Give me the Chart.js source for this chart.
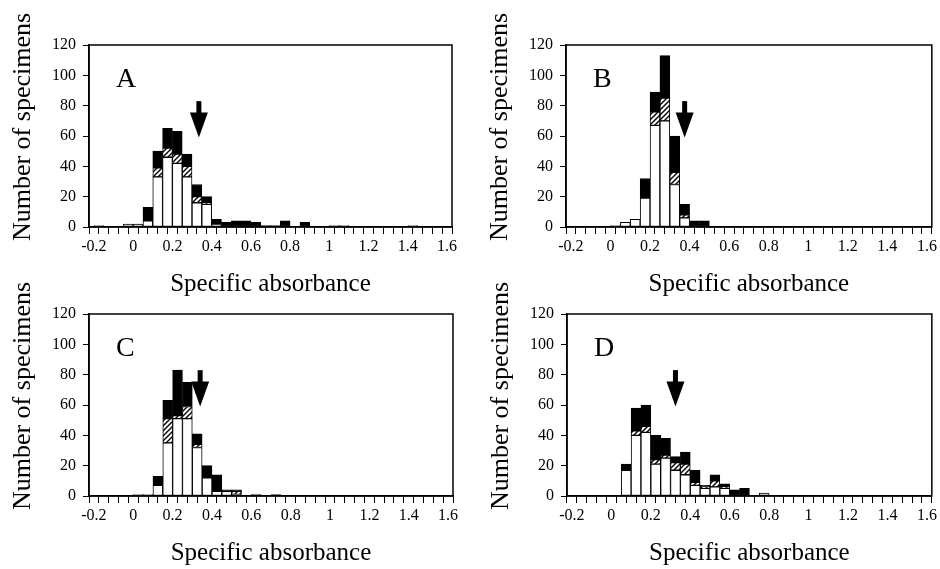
<!DOCTYPE html>
<html>
<head>
<meta charset="utf-8">
<script src="https://cdn.jsdelivr.net/npm/chart.js@4.4.1/dist/chart.umd.min.js"></script>
<style>
  body { margin: 0; background: #fff; }
  #wrap { position: relative; width: 940px; height: 569px; background: #fff; overflow: hidden; }
  canvas { position: absolute; }
</style>
</head>
<body>
<div id="wrap">
  <canvas id="chartA" width="470" height="300" style="left:0;top:0"></canvas>
  <canvas id="chartB" width="470" height="300" style="left:470px;top:0"></canvas>
  <canvas id="chartC" width="470" height="300" style="left:0;top:269px"></canvas>
  <canvas id="chartD" width="470" height="300" style="left:470px;top:269px"></canvas>
</div>
<script>
// bin centres, 0.05 wide, from -0.2 to 1.6
const binCenters = [-0.175, -0.125, -0.075, -0.025, 0.025, 0.075, 0.125, 0.175, 0.225, 0.275,
  0.325, 0.375, 0.425, 0.475, 0.525, 0.575, 0.625, 0.675, 0.725, 0.775,
  0.825, 0.875, 0.925, 0.975, 1.025, 1.075, 1.125, 1.175, 1.225, 1.275,
  1.325, 1.375, 1.425, 1.475, 1.525, 1.575];
const xTickLabels = ['-0.2', '0', '0.2', '0.4', '0.6', '0.8', '1', '1.2', '1.4', '1.6'];
const yTickLabels = ['0', '20', '40', '60', '80', '100', '120'];

// panel A
const whiteA = [1,0,0,2,2,4,33,46,42,33,16,15,2,0,0,0,0,0,0,0,0,0,0,0,1,1,0,0,0,0,0,0,1,0,0,0];
const hatchA = [0,0,0,0,0,0,6,6,6,7,4,1,0,0,0,0,0,0,0,0,0,0,0,0,0,0,0,0,0,0,0,0,0,0,0,0];
const blackA = [0,0,0,0,0,9,11,13,15,8,8,4,3,3,4,4,3,1,1,4,0,3,0,0,0,0,0,0,0,0,0,0,0,0,0,0];
// panel B
const whiteB = [0,0,0,0,1,3,5,19,67,70,28,6,0,0,0,0,0,0,0,0,0,0,0,0,0,0,0,0,0,0,0,0,0,0,0,0];
const hatchB = [0,0,0,0,0,0,0,0,9,15,8,2,0,0,0,0,0,0,0,0,0,0,0,0,0,0,0,0,0,0,0,0,0,0,0,0];
const blackB = [0,0,0,0,0,0,0,13,13,28,24,7,4,4,0,0,0,0,0,0,0,0,0,0,0,0,0,0,0,0,0,0,0,0,0,0];
// panel C
const whiteC = [0,0,0,0,1,1,7,35,51,51,32,12,3,3,1,0,0,0,0,0,0,0,0,0,0,0,0,0,0,0,0,0,0,0,0,0];
const hatchC = [0,0,0,0,0,0,0,16,2,8,2,0,0,0,2,0,0,0,0,0,0,0,0,0,0,0,0,0,0,0,0,0,0,0,0,0];
const blackC = [0,0,0,0,0,0,6,12,30,16,7,8,11,1,1,0,1,0,1,0,0,0,0,0,0,0,0,0,0,0,0,0,0,0,0,0];
// panel D
const whiteD = [0,0,0,0,0,17,40,42,21,25,17,14,7,5,6,5,0,0,0,2,0,0,0,0,0,0,0,0,0,0,0,0,0,0,0,0];
const hatchD = [0,0,0,0,0,0,3,4,3,2,5,7,2,1,4,1,0,0,0,0,0,0,0,0,0,0,0,0,0,0,0,0,0,0,0,0];
const blackD = [0,0,0,0,0,4,15,14,16,11,4,8,8,1,4,2,4,5,0,0,0,0,0,0,0,0,0,0,0,0,0,0,0,0,0,0];

// arrow positions (specific absorbance)
const arrowA = 0.335, arrowB = 0.375, arrowC = 0.34, arrowD = 0.325;

const serif = '"Liberation Serif", "DejaVu Serif", serif';

function hatchPattern(ctx) {
  const c = document.createElement('canvas');
  c.width = 5; c.height = 5;
  const g = c.getContext('2d');
  g.fillStyle = '#fff';
  g.fillRect(0, 0, 5, 5);
  g.strokeStyle = '#000';
  g.lineWidth = 1.4;
  g.beginPath();
  g.moveTo(-1, 6); g.lineTo(6, -1);
  g.moveTo(-1, 1); g.lineTo(1, -1);
  g.moveTo(4, 6); g.lineTo(6, 4);
  g.stroke();
  return ctx.createPattern(c, 'repeat');
}

function pts(arr) {
  return arr.map((v, i) => ({ x: binCenters[i], y: v > 0 ? v : null }));
}

const panelMarks = {
  id: 'panelMarks',
  afterDatasetsDraw(chart, args, opts) {
    const { ctx, chartArea: a, scales } = chart;
    ctx.save();
    // frame
    ctx.strokeStyle = '#000';
    ctx.lineWidth = 1.5;
    ctx.strokeRect(a.left, a.top, a.right - a.left, a.bottom - a.top);
    // arrow
    const x = scales.x.getPixelForValue(opts.arrowX);
    const yTop = scales.y.getPixelForValue(83);
    const yHead = scales.y.getPixelForValue(75.5);
    const yTip = scales.y.getPixelForValue(59);
    ctx.fillStyle = '#000';
    ctx.fillRect(x - 2.5, yTop, 5, yHead - yTop + 1);
    ctx.beginPath();
    ctx.moveTo(x - 9, yHead);
    ctx.lineTo(x + 9, yHead);
    ctx.lineTo(x, yTip);
    ctx.closePath();
    ctx.fill();
    // panel letter
    ctx.font = '28px ' + serif;
    ctx.textBaseline = 'alphabetic';
    ctx.textAlign = 'left';
    ctx.fillText(opts.letter, a.left + 27, a.top + 42);
    // y title
    ctx.translate(a.left - 66, (a.top + a.bottom) / 2 - 9);
    ctx.rotate(-Math.PI / 2);
    ctx.textAlign = 'center';
    ctx.textBaseline = 'middle';
    ctx.font = '26px ' + serif;
    ctx.fillText('Number of specimens', 0, 0);
    ctx.restore();
  }
};

function makeChart(id, white, hatch, black, arrowX, letter, yWidth, padRight) {
  const ctx = document.getElementById(id).getContext('2d');
  const base = { borderColor: '#000', borderWidth: 1, borderSkipped: false,
    barPercentage: 1, categoryPercentage: 1 };
  return new Chart(ctx, {
    type: 'bar',
    data: {
      datasets: [
        Object.assign({ label: 'white', data: pts(white), backgroundColor: '#fff' }, base),
        Object.assign({ label: 'hatched', data: pts(hatch), backgroundColor: hatchPattern(ctx) }, base),
        Object.assign({ label: 'black', data: pts(black), backgroundColor: '#000' }, base)
      ]
    },
    options: {
      responsive: false,
      animation: false,
      layout: { padding: { left: 0, top: 45, right: padRight, bottom: 0 } },
      plugins: {
        legend: { display: false },
        tooltip: { enabled: false },
        panelMarks: { arrowX: arrowX, letter: letter }
      },
      scales: {
        x: {
          type: 'linear',
          stacked: true,
          min: -0.2,
          max: 1.6,
          afterFit: s => { s.height = 73; },
          border: { display: true, color: '#000', width: 1.5 },
          grid: { drawOnChartArea: false, drawTicks: true, tickLength: 7, color: '#000', lineWidth: 1 },
          ticks: {
            stepSize: 0.05,
            autoSkip: false,
            maxRotation: 0,
            padding: 3,
            color: '#000',
            font: { family: serif, size: 16 },
            callback: v => {
              const k = Math.round(v * 20) + 4;
              return k % 4 === 0 ? xTickLabels[k / 4] : '';
            }
          },
          title: {
            display: true,
            text: 'Specific absorbance',
            color: '#000',
            font: { family: serif, size: 25 },
            padding: { top: 0, bottom: 1 }
          }
        },
        y: {
          stacked: true,
          min: 0,
          max: 120,
          afterFit: s => { s.width = yWidth; },
          border: { display: true, color: '#000', width: 1.5 },
          grid: { drawOnChartArea: false, drawTicks: true, tickLength: 6, color: '#000', lineWidth: 1 },
          ticks: {
            stepSize: 20,
            padding: 7,
            color: '#000',
            font: { family: serif, size: 16 },
            callback: v => yTickLabels[Math.round(v / 20)]
          }
        }
      }
    },
    plugins: [panelMarks]
  });
}

makeChart('chartA', whiteA, hatchA, blackA, arrowA, 'A', 89, 18);
makeChart('chartB', whiteB, hatchB, blackB, arrowB, 'B', 96, 8);
makeChart('chartC', whiteC, hatchC, blackC, arrowC, 'C', 89, 17);
makeChart('chartD', whiteD, hatchD, blackD, arrowD, 'D', 97, 7);
</script>
</body>
</html>
